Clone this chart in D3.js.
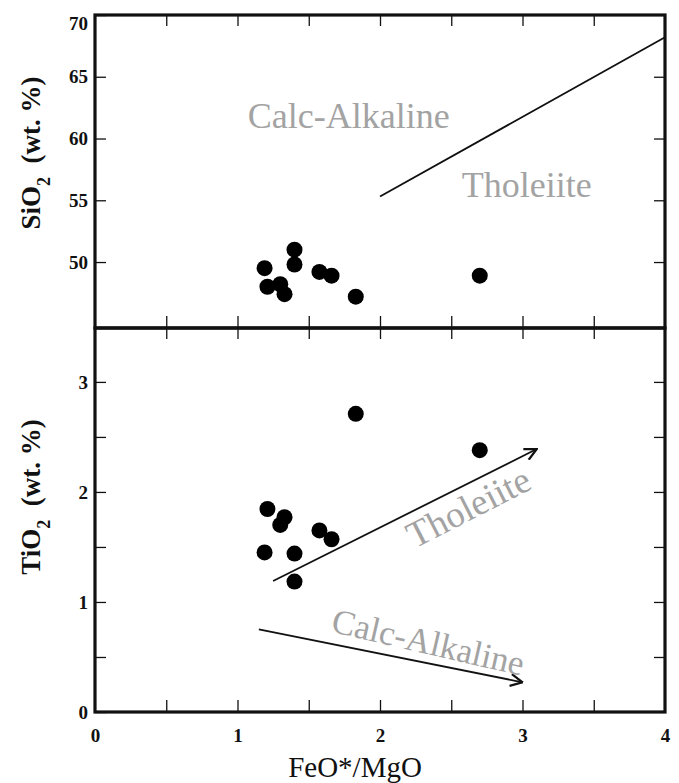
<!DOCTYPE html>
<html>
<head>
<meta charset="utf-8">
<script src="https://cdn.jsdelivr.net/npm/d3@7"></script>
</head>
<body style="margin:0">
<script>
// FeO*/MgO shared by both panels
var feoMgo = [1.19, 1.21, 1.30, 1.33, 1.40, 1.40, 1.575, 1.66, 1.83, 2.70];
var sio2   = [49.5, 48.0, 48.2, 47.4, 51.0, 49.8, 49.2, 48.9, 47.2, 48.9];
var tio2   = [1.45, 1.845, 1.70, 1.77, 1.44, 1.185, 1.65, 1.57, 2.71, 2.38];

var xTicks = [0, 1, 2, 3, 4];
var siTicks = [50, 55, 60, 65, 70];
var tiTicks = [0, 0.5, 1, 1.5, 2, 2.5, 3];
var xMinor = [0.5, 1, 1.5, 2, 2.5, 3, 3.5];

// divider line in the SiO2 panel, arrows in the TiO2 panel
var siBoundary = [[2.0, 55.3], [4.0, 68.2]];
var tholArrow = [[1.25, 1.19], [3.10, 2.39]];
var calcArrow = [[1.15, 0.75], [3.00, 0.27]];

var W = 679, H = 783;
var left = 95, right = 665;
var topY0 = 15, midY = 328, botY1 = 712;
var FONT = "'Liberation Serif', 'Times New Roman', serif";

var svg = d3.select("body")
	.append("svg")
	.attr("width", W)
	.attr("height", H)
	.attr("font-family", FONT);

var defs = svg.append("defs");
defs.append("marker")
	.attr("id", "arr")
	.attr("markerUnits", "userSpaceOnUse")
	.attr("viewBox", "0 0 14 14")
	.attr("refX", 13)
	.attr("refY", 7)
	.attr("markerWidth", 14)
	.attr("markerHeight", 14)
	.attr("orient", "auto")
	.append("path")
	.attr("d", "M1,1 L13,7 L1,13")
	.attr("fill", "none")
	.attr("stroke", "#111")
	.attr("stroke-width", 2.2);

var x = d3.scaleLinear().domain([0, 4]).range([left, right]);
var ySi = d3.scaleLinear().domain([44.66, 70]).range([midY, topY0]);
var yTi = d3.scaleLinear().domain([0, 3.49]).range([botY1, midY]);

function styleAxis(g) {
	g.attr("font-family", FONT);
	g.select(".domain").remove();
	g.selectAll(".tick line").attr("stroke", "#111").attr("stroke-width", 1.3);
	g.selectAll(".tick text")
		.attr("font-family", FONT)
		.attr("font-weight", "bold")
		.attr("font-size", 19)
		.attr("fill", "#111");
}

// ---- top panel (SiO2)
svg.append("g")
	.attr("transform", "translate(" + left + ",0)")
	.call(d3.axisLeft(ySi).tickValues(siTicks).tickSize(-11).tickPadding(7).tickFormat(d3.format("d")))
	.call(styleAxis)
	.selectAll(".tick text")
	.attr("dy", d => d == 70 ? "0.75em" : "0.32em");

svg.append("g")
	.attr("transform", "translate(" + right + ",0)")
	.call(d3.axisRight(ySi).tickValues([50, 55, 60, 65]).tickSize(-11).tickFormat(""))
	.call(styleAxis);

svg.append("g")
	.attr("transform", "translate(0," + topY0 + ")")
	.call(d3.axisTop(x).tickValues(xMinor).tickSize(-11).tickFormat(""))
	.call(styleAxis);

svg.append("g")
	.attr("transform", "translate(0," + midY + ")")
	.call(d3.axisBottom(x).tickValues(xMinor).tickSize(-12).tickFormat(""))
	.call(styleAxis);

// ---- bottom panel (TiO2)
svg.append("g")
	.attr("transform", "translate(" + left + ",0)")
	.call(d3.axisLeft(yTi).tickValues(tiTicks).tickSize(-11).tickPadding(7)
		.tickFormat(d => Number.isInteger(d) ? d : ""))
	.call(styleAxis);

svg.append("g")
	.attr("transform", "translate(" + right + ",0)")
	.call(d3.axisRight(yTi).tickValues(tiTicks.slice(1)).tickSize(-11).tickFormat(""))
	.call(styleAxis);

svg.append("g")
	.attr("transform", "translate(0," + midY + ")")
	.call(d3.axisTop(x).tickValues(xMinor).tickSize(-11).tickFormat(""))
	.call(styleAxis);

svg.append("g")
	.attr("transform", "translate(0," + botY1 + ")")
	.call(d3.axisBottom(x).tickValues(xMinor).tickSize(-12).tickFormat(""))
	.call(styleAxis);

svg.append("g")
	.attr("transform", "translate(0," + botY1 + ")")
	.call(d3.axisBottom(x).tickValues(xTicks).tickSize(0).tickPadding(17).tickFormat(d3.format("d")))
	.call(styleAxis);

// frames
svg.append("rect")
	.attr("x", left).attr("y", topY0)
	.attr("width", right - left).attr("height", midY - topY0)
	.attr("fill", "none").attr("stroke", "#111").attr("stroke-width", 3.2);
svg.append("rect")
	.attr("x", left).attr("y", midY)
	.attr("width", right - left).attr("height", botY1 - midY)
	.attr("fill", "none").attr("stroke", "#111").attr("stroke-width", 3.2);

// boundary line
svg.append("line")
	.attr("x1", x(siBoundary[0][0])).attr("y1", ySi(siBoundary[0][1]))
	.attr("x2", x(siBoundary[1][0])).attr("y2", ySi(siBoundary[1][1]))
	.attr("stroke", "#111").attr("stroke-width", 1.8);

// arrows
[tholArrow, calcArrow].forEach(a => {
	svg.append("line")
		.attr("x1", x(a[0][0])).attr("y1", yTi(a[0][1]))
		.attr("x2", x(a[1][0])).attr("y2", yTi(a[1][1]))
		.attr("stroke", "#111").attr("stroke-width", 1.8)
		.attr("marker-end", "url(#arr)");
});

// points
svg.selectAll(".si")
	.data(feoMgo)
	.enter()
	.append("circle")
	.attr("class", "si")
	.attr("cx", d => x(d))
	.attr("cy", (d, i) => ySi(sio2[i]))
	.attr("r", 8)
	.attr("fill", "#000");

svg.selectAll(".ti")
	.data(feoMgo)
	.enter()
	.append("circle")
	.attr("class", "ti")
	.attr("cx", d => x(d))
	.attr("cy", (d, i) => yTi(tio2[i]))
	.attr("r", 8)
	.attr("fill", "#000");

// field labels
var gray = "#a3a3a3";
function label(txt, px, py, size, angle) {
	svg.append("text")
		.attr("transform", "translate(" + px + "," + py + ") rotate(" + angle + ")")
		.attr("text-anchor", "middle")
		.attr("font-family", FONT)
		.attr("font-size", size)
		.attr("fill", gray)
		.text(txt);
}
label("Calc-Alkaline", x(1.78), ySi(60.85), 36, 0);
label("Tholeiite", x(3.03), ySi(55.26), 36, 0);
label("Tholeiite", x(2.66), yTi(1.76), 37, -27);
label("Calc-Alkaline", x(2.32), yTi(0.53), 35, 13);

// axis titles
function yTitle(cy, el) {
	var t = svg.append("text")
		.attr("transform", "translate(40," + cy + ") rotate(-90)")
		.attr("text-anchor", "middle")
		.attr("font-family", FONT)
		.attr("font-size", 27)
		.attr("font-weight", "bold")
		.attr("fill", "#111");
	t.append("tspan").text(el + "O");
	t.append("tspan").text("2").attr("baseline-shift", "sub").attr("font-size", 18);
	t.append("tspan").text("\u00a0\u00a0(wt. %)");
}
yTitle(153, "Si");
yTitle(497, "Ti");

svg.append("text")
	.attr("x", 355).attr("y", 777)
	.attr("text-anchor", "middle")
	.attr("font-family", FONT)
	.attr("font-size", 29)
	.attr("fill", "#111")
	.text("FeO*/MgO");
</script>
</body>
</html>
